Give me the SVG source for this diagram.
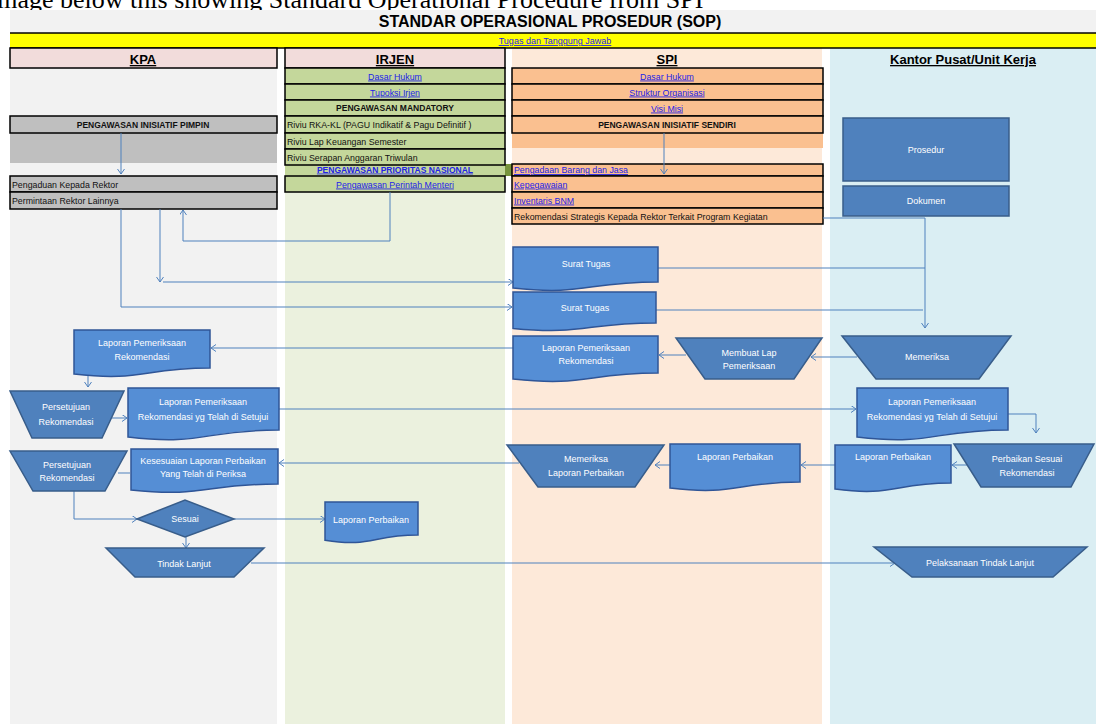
<svg xmlns="http://www.w3.org/2000/svg" width="1096" height="724" viewBox="0 0 1096 724">
<defs>
<style>
text{font-family:"Liberation Sans",Arial,sans-serif}
.bx{stroke:#000;stroke-width:1.5}
.g{fill:#c4d79b}
.o{fill:#fac090}
.gr{fill:#bfbfbf}
.lk{fill:#2323e8;text-decoration:underline;font-size:8.8px}
.bk{fill:#111;font-size:8.8px}
.bb{fill:#111;font-size:8.5px;font-weight:bold}
.doc{fill:#558ed5;stroke:#2f5597;stroke-width:1.5}
.trap{fill:#4f81bd;stroke:#385d8a;stroke-width:1.5}
.w{fill:#fff;font-size:9px}
.c{fill:none;stroke:#4f81bd;stroke-width:1}
.h{font-size:13px;font-weight:bold;text-decoration:underline;fill:#000}
</style>
<marker id="ar" markerWidth="8" markerHeight="8" refX="5" refY="3.5" orient="auto" markerUnits="userSpaceOnUse"><path d="M0,0 L5,3.5 L0,7" fill="none" stroke="#4f81bd" stroke-width="1"/></marker>
</defs>
<rect x="0" y="0" width="1096" height="724" fill="#fff"/>
<text x="-10" y="8" style="font-family:'Liberation Serif',serif;font-size:26px" fill="#000">image below this showing Standard Operational Procedure from SPI</text>

<g id="title">
<rect x="10" y="10" width="1086" height="22" fill="#f2f2f2"/>
<text x="550" y="27" text-anchor="middle" style="font-size:16px;font-weight:bold" fill="#000">STANDAR OPERASIONAL PROSEDUR (SOP)</text>
</g>
<g id="columns">
<rect x="10" y="48" width="267" height="676" fill="#f2f2f2"/>
<rect x="285" y="48" width="220" height="676" fill="#ebf1de"/>
<rect x="512" y="48" width="310" height="676" fill="#fde9d9"/>
<rect x="830" y="48" width="266" height="676" fill="#daeef3"/>
</g>
<g id="tugas">
<rect x="10" y="33" width="1086" height="15" fill="#ffff00"/>
<line x1="10" y1="33" x2="1096" y2="33" stroke="#000" stroke-width="1.5"/>
<line x1="10" y1="48" x2="1096" y2="48" stroke="#000" stroke-width="1.5"/>
<text x="555" y="44" text-anchor="middle" class="lk" style="font-size:9px">Tugas dan Tanggung Jawab</text>
</g>
<g id="hdr-kpa"><rect x="10" y="48" width="267" height="20" fill="#f2dcdb" class="bx"/><text x="143" y="64" text-anchor="middle" class="h">KPA</text></g>
<g id="hdr-irjen"><rect x="285" y="48" width="220" height="20" fill="#f2dcdb" class="bx"/><text x="395" y="64" text-anchor="middle" class="h">IRJEN</text></g>
<g id="hdr-spi"><rect x="512" y="49" width="310" height="19" fill="#fde9d9"/><text x="667" y="64" text-anchor="middle" class="h">SPI</text></g>
<g id="hdr-kantor"><text x="963" y="64" text-anchor="middle" class="h">Kantor Pusat/Unit Kerja</text></g>

<g id="irjen-table">
<rect x="285" y="164" width="220" height="12" class="g"/>
<text x="395" y="172.5" text-anchor="middle" class="lk" style="font-weight:bold;font-size:8.5px">PENGAWASAN PRIORITAS NASIONAL</text>
<rect x="505" y="164" width="7" height="12" fill="#77933c"/>
<rect x="285" y="68" width="220" height="16" class="bx g"/><text x="395" y="79.5" text-anchor="middle" class="lk">Dasar Hukum</text>
<rect x="285" y="84" width="220" height="16" class="bx g"/><text x="395" y="95.5" text-anchor="middle" class="lk">Tupoksi Irjen</text>
<rect x="285" y="100" width="220" height="16" class="bx g"/><text x="395" y="111" text-anchor="middle" class="bb">PENGAWASAN MANDATORY</text>
<rect x="285" y="116" width="220" height="17" class="bx g"/><text x="287" y="128" class="bk">Riviu RKA-KL (PAGU Indikatif &amp; Pagu Definitif )</text>
<rect x="285" y="133" width="220" height="16" class="bx g"/><text x="287" y="144.5" class="bk">Riviu Lap Keuangan Semester</text>
<rect x="285" y="149" width="220" height="16" class="bx g"/><text x="287" y="160.5" class="bk">Riviu Serapan Anggaran Triwulan</text>
<rect x="285" y="176" width="220" height="16" class="bx g"/><text x="395" y="187.5" text-anchor="middle" class="lk">Pengawasan Perintah Menteri</text>
</g>

<g id="spi-table">
<rect x="512" y="133" width="311" height="15" class="o"/>
<rect x="512" y="164" width="311" height="12" class="bx o"/>
<text x="514" y="173" class="lk">Pengadaan Barang dan Jasa</text>
<rect x="512" y="68" width="311" height="16" class="bx o"/><text x="667" y="79.5" text-anchor="middle" class="lk">Dasar Hukum</text>
<rect x="512" y="84" width="311" height="16" class="bx o"/><text x="667" y="95.5" text-anchor="middle" class="lk">Struktur Organisasi</text>
<rect x="512" y="100" width="311" height="16" class="bx o"/><text x="667" y="111.5" text-anchor="middle" class="lk">Visi Misi</text>
<rect x="512" y="116" width="311" height="17" class="bx o"/><text x="667" y="128" text-anchor="middle" class="bb">PENGAWASAN INISIATIF SENDIRI</text>
<rect x="512" y="176" width="311" height="16" class="bx o"/><text x="514" y="187.5" class="lk">Kepegawaian</text>
<rect x="512" y="192" width="311" height="16" class="bx o"/><text x="514" y="203.5" class="lk">Inventaris BNM</text>
<rect x="512" y="208" width="311" height="16" class="bx o"/><text x="514" y="219.5" class="bk">Rekomendasi Strategis Kepada Rektor Terkait Program Kegiatan</text>
</g>

<g id="kpa-table">
<rect x="10" y="133" width="267" height="30" class="gr"/>
<rect x="10" y="116" width="267" height="17" class="bx gr"/><text x="143" y="128" text-anchor="middle" class="bb">PENGAWASAN INISIATIF PIMPIN</text>
<rect x="10" y="176" width="267" height="16" class="bx gr"/><text x="12" y="188" class="bk">Pengaduan Kepada Rektor</text>
<rect x="10" y="192" width="267" height="17" class="bx gr"/><text x="12" y="204" class="bk">Permintaan Rektor Lainnya</text>
</g>

<g id="connectors">
<path class="c" d="M121,133 V174" marker-end="url(#ar)"/>
<path class="c" d="M664,133 V174" marker-end="url(#ar)"/>
<path class="c" d="M390,192 V241 H183 V210" marker-end="url(#ar)"/>
<path class="c" d="M160,209 V282" marker-end="url(#ar)"/>
<path class="c" d="M163,282 H513" marker-end="url(#ar)"/>
<path class="c" d="M121,209 V307 H512" marker-end="url(#ar)"/>
<path class="c" d="M823,218 H925 V328" marker-end="url(#ar)"/>
<path class="c" d="M658,268 H925"/>
<path class="c" d="M656,310 H923"/>
<path class="c" d="M857,357 H811" marker-end="url(#ar)"/>
<path class="c" d="M686,355 H659" marker-end="url(#ar)"/>
<path class="c" d="M513,348 H211" marker-end="url(#ar)"/>
<path class="c" d="M88,371 V387" marker-end="url(#ar)"/>
<path class="c" d="M112,418 H127" marker-end="url(#ar)"/>
<path class="c" d="M279,409 H856" marker-end="url(#ar)"/>
<path class="c" d="M1008,414 H1036 V433" marker-end="url(#ar)"/>
<path class="c" d="M968,465 H952" marker-end="url(#ar)"/>
<path class="c" d="M835,465 H801" marker-end="url(#ar)"/>
<path class="c" d="M670,465 H655" marker-end="url(#ar)"/>
<path class="c" d="M519,463 H279" marker-end="url(#ar)"/>
<path class="c" d="M130,473 H118"/>
<path class="c" d="M74,491 V519 H137" marker-end="url(#ar)"/>
<path class="c" d="M234,519 H325" marker-end="url(#ar)"/>
<path class="c" d="M186,537 V548" marker-end="url(#ar)"/>
<path class="c" d="M251,563 H895" marker-end="url(#ar)"/>
</g>

<g id="prosedur"><rect x="843" y="118" width="166" height="63" fill="#4f81bd" stroke="#385d8a" stroke-width="1.5"/><text x="926" y="153" text-anchor="middle" class="w">Prosedur</text></g>
<g id="dokumen"><rect x="843" y="186" width="166" height="30" fill="#4f81bd" stroke="#385d8a" stroke-width="1.5"/><text x="926" y="204" text-anchor="middle" class="w">Dokumen</text></g>

<g id="surat-tugas-1"><path class="doc" d="M513,247 H658 V282 C585.5,282 585.5,295.7 513,288.1 Z"/><text x="586" y="267" text-anchor="middle" class="w">Surat Tugas</text></g>
<g id="surat-tugas-2"><path class="doc" d="M513,292 H656 V323 C584.5,323 584.5,335.2 513,328.4 Z"/><text x="585" y="311" text-anchor="middle" class="w">Surat Tugas</text></g>
<g id="lap-pem-spi"><path class="doc" d="M513,336 H658 V373 C585.5,373 585.5,387 513,379 Z"/><text x="586" y="351" text-anchor="middle" class="w">Laporan Pemeriksaan</text><text x="586" y="364" text-anchor="middle" class="w">Rekomendasi</text></g>
<g id="membuat-lap"><polygon class="trap" points="676,338 822,338 794,379 705,379"/><text x="749" y="356" text-anchor="middle" class="w">Membuat Lap</text><text x="749" y="369" text-anchor="middle" class="w">Pemeriksaan</text></g>
<g id="memeriksa"><polygon class="trap" points="842,336 1011,336 979,379 876,379"/><text x="927" y="360" text-anchor="middle" class="w">Memeriksa</text></g>
<g id="lap-pem-kpa"><path class="doc" d="M74,330 H210 V368 C142,368 142,382 74,374 Z"/><text x="142" y="346" text-anchor="middle" class="w">Laporan Pemeriksaan</text><text x="142" y="360" text-anchor="middle" class="w">Rekomendasi</text></g>
<g id="persetujuan-1"><polygon class="trap" points="10,391 124,391 102,438 32,438"/><text x="66" y="410" text-anchor="middle" class="w">Persetujuan</text><text x="66" y="425" text-anchor="middle" class="w">Rekomendasi</text></g>
<g id="lap-setujui-kpa"><path class="doc" d="M128,388 H279 V430 C203.5,430 203.5,446 128,437 Z"/><text x="203" y="405" text-anchor="middle" class="w">Laporan Pemeriksaan</text><text x="203" y="420" text-anchor="middle" class="w">Rekomendasi yg Telah di Setujui</text></g>
<g id="lap-setujui-kantor"><path class="doc" d="M857,388 H1008 V430 C932.5,430 932.5,446 857,437 Z"/><text x="932" y="405" text-anchor="middle" class="w">Laporan Pemeriksaan</text><text x="932" y="420" text-anchor="middle" class="w">Rekomendasi yg Telah di Setujui</text></g>
<g id="persetujuan-2"><polygon class="trap" points="10,451 127,451 105,491 33,491"/><text x="67" y="468" text-anchor="middle" class="w">Persetujuan</text><text x="67" y="481" text-anchor="middle" class="w">Rekomendasi</text></g>
<g id="kesesuaian"><path class="doc" d="M131,449 H278 V484 C204.5,484 204.5,497.7 131,490 Z"/><text x="203" y="464" text-anchor="middle" class="w">Kesesuaian Laporan Perbaikan</text><text x="203" y="477" text-anchor="middle" class="w">Yang Telah  di  Periksa</text></g>
<g id="memeriksa-lap"><polygon class="trap" points="507,445 664,445 635,487 538,487"/><text x="586" y="462" text-anchor="middle" class="w">Memeriksa</text><text x="586" y="476" text-anchor="middle" class="w">Laporan Perbaikan</text></g>
<g id="lap-perbaikan-spi"><path class="doc" d="M670,444 H800 V482 C735,482 735,496 670,488 Z"/><text x="735" y="460" text-anchor="middle" class="w">Laporan Perbaikan</text></g>
<g id="lap-perbaikan-kantor"><path class="doc" d="M835,445 H951 V483 C893,483 893,497 835,489 Z"/><text x="893" y="460" text-anchor="middle" class="w">Laporan Perbaikan</text></g>
<g id="perbaikan-sesuai"><polygon class="trap" points="954,444 1094,444 1071,487 981,487"/><text x="1027" y="462" text-anchor="middle" class="w">Perbaikan Sesuai</text><text x="1027" y="476" text-anchor="middle" class="w">Rekomendasi</text></g>
<g id="sesuai"><polygon class="trap" points="137,519 185,500 234,519 185,537"/><text x="185" y="522" text-anchor="middle" class="w">Sesuai</text></g>
<g id="lap-perbaikan-irjen"><path class="doc" d="M325,502 H418 V535 C371.5,535 371.5,547.7 325,540.3 Z"/><text x="371" y="523" text-anchor="middle" class="w">Laporan Perbaikan</text></g>
<g id="tindak-lanjut"><polygon class="trap" points="106,548 264,548 234,577 135,577"/><text x="184" y="567" text-anchor="middle" class="w">Tindak Lanjut</text></g>
<g id="pelaksanaan"><polygon class="trap" points="874,547 1087,547 1053,577 912,577"/><text x="980" y="566" text-anchor="middle" class="w">Pelaksanaan Tindak Lanjut</text></g>
</svg>
